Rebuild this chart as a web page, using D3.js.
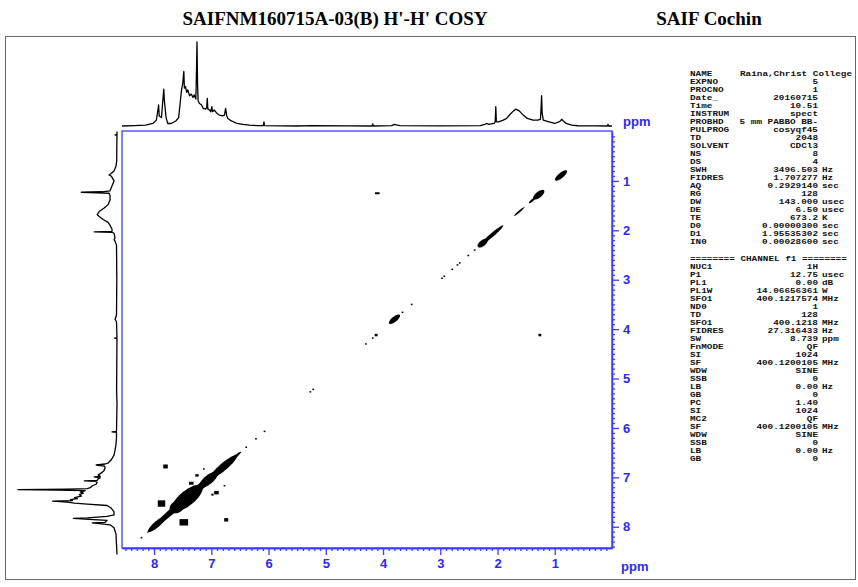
<!DOCTYPE html>
<html><head><meta charset="utf-8">
<script src="https://cdn.jsdelivr.net/npm/d3@7"></script>
<style>body{margin:0;background:#fff}svg{display:block}</style>
</head><body>
<script>
// ---------- data ----------
const titleText = "SAIFNM160715A-03(B) H'-H' COSY";
const siteText = "SAIF Cochin";
const axisUnit = "ppm";
const xTicks = [8,7,6,5,4,3,2,1];
const yTicks = [1,2,3,4,5,6,7,8];

// 1D projection [ppm, relative intensity]
const spectrum = [
 [8.56,0.0],[8.35,0.005],[8.15,0.01],[8.02,0.03],[7.96,0.07],[7.93,0.2],[7.92,0.25],[7.91,0.12],
 [7.87,0.1],[7.85,0.28],[7.83,0.44],[7.82,0.3],[7.79,0.1],[7.76,0.03],[7.70,0.03],[7.62,0.06],
 [7.57,0.1],[7.54,0.3],[7.52,0.43],[7.50,0.5],[7.48,0.65],[7.47,0.45],[7.45,0.47],[7.43,0.4],
 [7.41,0.43],[7.38,0.36],[7.35,0.38],[7.32,0.34],[7.30,0.37],[7.27,0.32],[7.26,0.6],[7.25,1.0],
 [7.24,0.5],[7.23,0.3],[7.21,0.27],[7.17,0.25],[7.14,0.21],[7.10,0.2],[7.08,0.22],[7.07,0.33],
 [7.06,0.2],[7.03,0.19],[7.01,0.17],[6.99,0.23],[6.98,0.17],[6.95,0.19],[6.90,0.15],[6.86,0.13],
 [6.80,0.12],[6.77,0.13],[6.75,0.21],[6.73,0.12],[6.71,0.09],[6.65,0.06],[6.55,0.03],[6.45,0.02],
 [6.33,0.01],[6.20,0.005],[6.09,0.005],[6.08,0.05],[6.07,0.005],[5.50,0.0],[5.25,0.004],[4.60,0.002],
 [4.19,0.0],[4.18,0.025],[4.17,0.0],[3.85,0.005],[3.80,0.02],[3.75,0.01],[3.70,0.005],[3.00,0.002],
 [2.30,0.005],[2.22,0.02],[2.19,0.03],[2.15,0.02],[2.06,0.03],[2.04,0.05],[2.03,0.23],[2.02,0.05],
 [1.98,0.05],[1.90,0.07],[1.84,0.09],[1.78,0.14],[1.72,0.18],[1.68,0.2],[1.62,0.18],[1.55,0.13],
 [1.48,0.09],[1.38,0.07],[1.30,0.07],[1.25,0.08],[1.24,0.2],[1.23,0.36],[1.22,0.15],[1.20,0.07],
 [1.10,0.05],[1.00,0.03],[0.93,0.05],[0.90,0.06],[0.88,0.08],[0.85,0.06],[0.80,0.03],[0.70,0.01],
 [0.60,0.003],[0.30,0.002],[0.08,0.0],[0.07,0.02],[0.06,0.0],[0.0,0.0]
];

// diagonal peaks [centre ppm, half length ppm, half width ppm]
const diagonalPeaks = [
 [7.30,0.82,0.045],[7.42,0.25,0.1],[7.60,0.1,0.08],[7.05,0.15,0.06],[6.78,0.22,0.05],[7.95,0.15,0.04],
 [0.89,0.10,0.035],[1.28,0.09,0.04],[1.40,0.05,0.015],[1.62,0.09,0.012],
 [2.26,0.08,0.04],[2.10,0.20,0.025],[3.80,0.09,0.035]
];
// small diagonal dots [ppm]
const diagonalDots = [2.40,2.51,2.66,2.70,2.79,2.93,2.97,3.50,3.66,4.18,4.30,5.22,5.27,6.07,6.22,6.39,8.22];
// cross peaks [f2 ppm, f1 ppm, width ppm, height ppm]
const crossPeaks = [
 [4.10,1.25,0.08,0.04],[1.26,4.12,0.05,0.05],[4.12,4.12,0.05,0.05],
 [7.80,6.78,0.08,0.08],[7.13,6.83,0.03,0.03],[7.25,6.96,0.06,0.05],[7.35,7.12,0.08,0.06],
 [6.91,7.31,0.08,0.07],[6.98,7.35,0.04,0.04],[6.77,7.17,0.03,0.03],
 [7.87,7.53,0.13,0.13],[7.48,7.91,0.15,0.13],[6.74,7.86,0.07,0.07]
];

// acquisition parameters
const paramNames1 = ["NAME","EXPNO","PROCNO","Date_","Time","INSTRUM","PROBHD","PULPROG","TD","SOLVENT","NS","DS","SWH","FIDRES","AQ","RG","DW","DE","TE","D0","D1","IN0"];
const paramValues1 = ["Raina,Christ College","5","1","20160715","10.51","spect","5 mm PABBO BB-","cosyqf45","2048","CDCl3","8","4","3496.503","1.707277","0.2929140","128","143.000","6.50","673.2","0.00000300","1.95535302","0.00028600"];
const paramUnits1 = ["","","","","","","","","","","","","Hz","Hz","sec","","usec","usec","K","sec","sec","sec"];
const channelHeader = "======== CHANNEL f1 ========";
const paramNames2 = ["NUC1","P1","PL1","PL1W","SFO1","ND0","TD","SFO1","FIDRES","SW","FnMODE","SI","SF","WDW","SSB","LB","GB","PC","SI","MC2","SF","WDW","SSB","LB","GB"];
const paramValues2 = ["1H","12.75","0.00","14.06656361","400.1217574","1","128","400.1218","27.316433","8.739","QF","1024","400.1200105","SINE","0","0.00","0","1.40","1024","QF","400.1200105","SINE","0","0.00","0"];
const paramUnits2 = ["","usec","dB","W","MHz","","","MHz","Hz","ppm","","","MHz","","","Hz","","","","","MHz","","","Hz",""];

// ---------- drawing ----------
const W = 858, H = 587;
const blue = "#3c3cff", blueText = "#2a2af2";
const svg = d3.select("body").append("svg").attr("width",W).attr("height",H);

svg.append("rect").attr("x",5.5).attr("y",36.5).attr("width",850).attr("height",543)
  .attr("fill","none").attr("stroke","#666").attr("stroke-width",1);

svg.append("text").attr("x",335).attr("y",25).attr("text-anchor","middle")
  .attr("font-family","Liberation Serif, Times New Roman, serif").attr("font-weight","bold")
  .attr("font-size",19).text(titleText);
svg.append("text").attr("x",709).attr("y",25).attr("text-anchor","middle")
  .attr("font-family","Liberation Serif, Times New Roman, serif").attr("font-weight","bold")
  .attr("font-size",19).text(siteText);

const x = d3.scaleLinear().domain([8.56,0]).range([122,612]);
const y = d3.scaleLinear().domain([-0.01,8.43]).range([131,548]);
const iTop = d3.scaleLinear().domain([0,1]).range([126,42]);
const iLeft = d3.scaleLinear().domain([0,1]).range([117,18]);

// 1D traces
svg.append("path").datum(spectrum)
  .attr("d", d3.line().x(d=>x(d[0])).y(d=>iTop(d[1])))
  .attr("fill","none").attr("stroke","#000").attr("stroke-width",1.3).attr("stroke-linejoin","round");
svg.append("path").datum(spectrum)
  .attr("d", d3.line().x(d=>iLeft(d[1])).y(d=>y(d[0])))
  .attr("fill","none").attr("stroke","#000").attr("stroke-width",1.3).attr("stroke-linejoin","round");

// contour area
const g = svg.append("g");
const angles = d3.range(0, 2*Math.PI, Math.PI/24);
const ell = d3.line().curve(d3.curveLinearClosed);
g.selectAll("path.diag").data(diagonalPeaks).join("path").attr("class","diag")
  .attr("d", d => ell(angles.map(t => {
     const a = d[0] + d[1]*Math.cos(t), b = d[2]*Math.sin(t);
     return [x(a + b), y(a - b)];
  })))
  .attr("fill","#000");
g.selectAll("rect.dot").data(diagonalDots).join("rect").attr("class","dot")
  .attr("x", d=>x(d+0.015)).attr("y", d=>y(d-0.015))
  .attr("width", d=>x(d-0.015)-x(d+0.015)).attr("height", d=>y(d+0.015)-y(d-0.015))
  .attr("fill","#000");
g.selectAll("rect.cross").data(crossPeaks).join("rect").attr("class","cross")
  .attr("x", d=>x(d[0]+d[2]/2)).attr("y", d=>y(d[1]-d[3]/2))
  .attr("width", d=>x(d[0]-d[2]/2)-x(d[0]+d[2]/2)).attr("height", d=>y(d[1]+d[3]/2)-y(d[1]-d[3]/2))
  .attr("fill","#000");

// frame of 2D plot
svg.append("rect").attr("x",122).attr("y",131).attr("width",490).attr("height",417)
  .attr("fill","none").attr("stroke",blue).attr("stroke-width",1.3);

// axes
const xMinor = d3.range(1,86).map(i=>i/10).filter(v=>Math.abs(v-Math.round(v))>1e-6);
const yMinor = d3.range(0,85).map(i=>i/10).filter(v=>Math.abs(v-Math.round(v))>1e-6);

function styleAxis(sel){
  sel.selectAll("path,line").attr("stroke",blue).attr("stroke-width",1.3);
  sel.selectAll("text").attr("fill",blueText).attr("font-family","Liberation Sans, Arial, sans-serif")
     .attr("font-weight","bold").attr("font-size",13);
}
svg.append("g").attr("transform","translate(0,548)")
  .call(d3.axisBottom(x).tickValues(xMinor).tickSize(3).tickFormat("").tickSizeOuter(0))
  .call(styleAxis);
svg.append("g").attr("transform","translate(0,548)")
  .call(d3.axisBottom(x).tickValues(xTicks).tickSize(7).tickPadding(4).tickFormat(d3.format("d")).tickSizeOuter(0))
  .call(styleAxis);
svg.append("g").attr("transform","translate(612,0)")
  .call(d3.axisRight(y).tickValues(yMinor).tickSize(3).tickFormat("").tickSizeOuter(0))
  .call(styleAxis);
svg.append("g").attr("transform","translate(612,0)")
  .call(d3.axisRight(y).tickValues(yTicks).tickSize(7).tickPadding(4).tickFormat(d3.format("d")).tickSizeOuter(0))
  .call(styleAxis);

svg.append("text").attr("x",621).attr("y",571).text(axisUnit)
  .attr("fill",blueText).attr("font-family","Liberation Sans, Arial, sans-serif").attr("font-weight","bold").attr("font-size",13);
svg.append("text").attr("x",623).attr("y",126).text(axisUnit)
  .attr("fill",blueText).attr("font-family","Liberation Sans, Arial, sans-serif").attr("font-weight","bold").attr("font-size",13);

// parameter table (monospace, stretched to the 5.6 px character pitch of the reference)
const pitch = 5.6;
const pt = svg.append("g").attr("font-family","Liberation Mono, Courier New, monospace")
  .attr("font-size",6.8).attr("font-weight","bold").attr("fill","#111");
function cell(txt, xx, yy, anchor){
  pt.append("text").attr("x",xx).attr("y",yy).attr("text-anchor",anchor)
    .attr("textLength", txt.length*pitch).attr("lengthAdjust","spacingAndGlyphs").text(txt);
}
function paramRows(names, values, units, y0){
  names.forEach((n,i)=>{
    const yy = y0 + i*8;
    cell(n, 690, yy, "start");
    const v = values[i];
    if (v.length > 16) cell(v, 740, yy, "start");
    else cell(v, 818, yy, "end");
    if (units[i]) cell(units[i], 822, yy, "start");
  });
}
paramRows(paramNames1, paramValues1, paramUnits1, 76);
cell(channelHeader, 690, 261, "start");
paramRows(paramNames2, paramValues2, paramUnits2, 269);
</script>
</body></html>
